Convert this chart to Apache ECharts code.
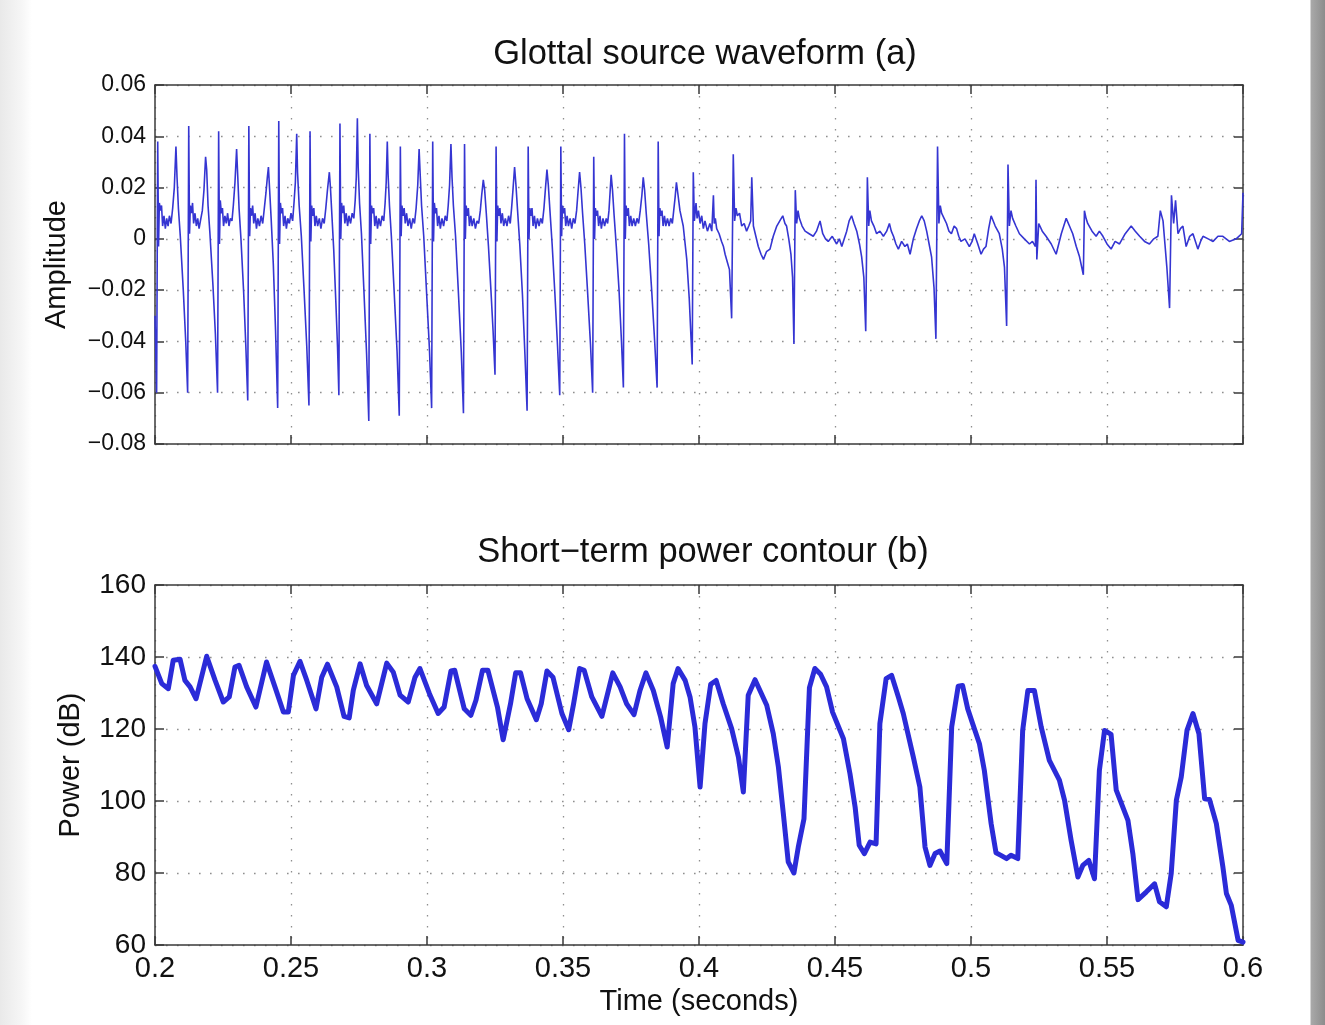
<!DOCTYPE html>
<html>
<head>
<meta charset="utf-8">
<script src="https://cdn.jsdelivr.net/npm/echarts@6/dist/echarts.min.js"></script>
<style>
  html, body { margin: 0; padding: 0; }
  body {
    width: 1325px; height: 1025px; overflow: hidden;
    background: linear-gradient(to right, #e9e9e9 0px, #f6f6f6 22px, #ffffff 32px, #ffffff 1310px, #a9a9a9 1311px, #8c8c8c 1325px);
  }
  #chart { width: 1325px; height: 1025px; }
</style>
</head>
<body>
<div id="chart"></div>
<script>
// ---- Data ----
const timeTicks = [0.2, 0.25, 0.3, 0.35, 0.4, 0.45, 0.5, 0.55, 0.6];
const amplitudeTicks = [-0.08, -0.06, -0.04, -0.02, 0, 0.02, 0.04, 0.06];
const powerTicks = [60, 80, 100, 120, 140, 160];

// Glottal source waveform (a): [time (s), amplitude]
const waveform = [
[0.2000,-0.030],[0.2003,-0.045],[0.2006,-0.060],
[0.2010,0.038],[0.2013,-0.003],[0.2016,0.014],[0.2020,0.011],[0.2024,0.013],[0.2028,0.005],[0.2033,0.009],[0.2038,0.004],[0.2043,0.008],[0.2048,0.005],[0.2053,0.009],[0.2059,0.006],[0.2065,0.012],[0.2071,0.020],[0.2077,0.036],[0.2081,0.024],[0.2086,0.012],[0.2093,0.001],[0.2104,-0.020],[0.2113,-0.040],[0.2120,-0.060],
[0.2124,0.044],[0.2127,0.002],[0.2130,0.013],[0.2134,0.010],[0.2138,0.014],[0.2142,0.006],[0.2147,0.010],[0.2152,0.005],[0.2157,0.008],[0.2162,0.004],[0.2167,0.007],[0.2174,0.011],[0.2180,0.019],[0.2186,0.032],[0.2190,0.027],[0.2195,0.013],[0.2202,0.002],[0.2213,-0.018],[0.2222,-0.037],[0.2230,-0.060],
[0.2234,0.042],[0.2237,-0.002],[0.2240,0.015],[0.2244,0.010],[0.2248,0.012],[0.2252,0.005],[0.2257,0.009],[0.2262,0.006],[0.2267,0.010],[0.2272,0.005],[0.2277,0.008],[0.2283,0.007],[0.2288,0.013],[0.2294,0.022],[0.2300,0.035],[0.2304,0.025],[0.2309,0.012],[0.2316,0.000],[0.2326,-0.021],[0.2334,-0.042],[0.2341,-0.063],
[0.2345,0.044],[0.2348,0.001],[0.2351,0.012],[0.2355,0.009],[0.2359,0.013],[0.2363,0.006],[0.2368,0.010],[0.2373,0.004],[0.2378,0.008],[0.2384,0.005],[0.2390,0.009],[0.2396,0.006],[0.2402,0.012],[0.2408,0.018],[0.2413,0.024],[0.2417,0.028],[0.2421,0.020],[0.2427,0.008],[0.2435,-0.010],[0.2443,-0.035],[0.2451,-0.066],
[0.2455,0.046],[0.2458,-0.002],[0.2461,0.014],[0.2465,0.010],[0.2469,0.012],[0.2473,0.005],[0.2478,0.009],[0.2483,0.004],[0.2488,0.008],[0.2494,0.006],[0.2500,0.010],[0.2506,0.007],[0.2511,0.014],[0.2516,0.022],[0.2521,0.041],[0.2524,0.026],[0.2530,0.013],[0.2538,0.001],[0.2548,-0.020],[0.2558,-0.042],[0.2566,-0.065],
[0.2570,0.042],[0.2573,-0.001],[0.2576,0.013],[0.2580,0.009],[0.2584,0.012],[0.2588,0.005],[0.2593,0.009],[0.2598,0.005],[0.2604,0.008],[0.2610,0.004],[0.2616,0.008],[0.2622,0.006],[0.2628,0.012],[0.2634,0.019],[0.2641,0.026],[0.2645,0.020],[0.2650,0.010],[0.2657,-0.004],[0.2665,-0.025],[0.2671,-0.042],[0.2676,-0.061],
[0.2680,0.045],[0.2683,0.000],[0.2686,0.014],[0.2690,0.010],[0.2694,0.013],[0.2698,0.006],[0.2703,0.010],[0.2708,0.005],[0.2713,0.009],[0.2719,0.006],[0.2725,0.010],[0.2731,0.008],[0.2736,0.015],[0.2740,0.024],[0.2744,0.047],[0.2747,0.028],[0.2752,0.014],[0.2759,0.002],[0.2768,-0.020],[0.2778,-0.045],[0.2786,-0.071],
[0.2790,0.041],[0.2793,-0.002],[0.2796,0.013],[0.2800,0.010],[0.2804,0.012],[0.2808,0.005],[0.2813,0.009],[0.2818,0.004],[0.2823,0.008],[0.2829,0.005],[0.2835,0.009],[0.2841,0.007],[0.2846,0.014],[0.2850,0.022],[0.2854,0.038],[0.2857,0.025],[0.2862,0.013],[0.2869,0.001],[0.2879,-0.020],[0.2890,-0.044],[0.2898,-0.069],
[0.2902,0.036],[0.2905,0.001],[0.2908,0.013],[0.2912,0.009],[0.2916,0.012],[0.2920,0.006],[0.2925,0.010],[0.2930,0.005],[0.2936,0.008],[0.2942,0.004],[0.2948,0.008],[0.2954,0.006],[0.2960,0.012],[0.2966,0.021],[0.2971,0.035],[0.2975,0.025],[0.2980,0.013],[0.2988,0.001],[0.2998,-0.020],[0.3009,-0.043],[0.3017,-0.066],
[0.3021,0.038],[0.3024,-0.001],[0.3027,0.014],[0.3031,0.010],[0.3035,0.012],[0.3039,0.005],[0.3044,0.009],[0.3049,0.004],[0.3055,0.008],[0.3061,0.005],[0.3067,0.009],[0.3073,0.007],[0.3078,0.013],[0.3083,0.021],[0.3088,0.037],[0.3092,0.024],[0.3097,0.013],[0.3105,0.001],[0.3115,-0.020],[0.3126,-0.044],[0.3134,-0.068],
[0.3138,0.037],[0.3141,0.000],[0.3144,0.013],[0.3148,0.009],[0.3152,0.012],[0.3156,0.005],[0.3161,0.009],[0.3166,0.005],[0.3172,0.008],[0.3178,0.004],[0.3184,0.007],[0.3190,0.006],[0.3196,0.011],[0.3201,0.017],[0.3207,0.023],[0.3212,0.019],[0.3218,0.010],[0.3226,-0.003],[0.3235,-0.020],[0.3243,-0.036],[0.3250,-0.053],
[0.3254,0.036],[0.3257,-0.001],[0.3260,0.013],[0.3264,0.009],[0.3268,0.012],[0.3272,0.006],[0.3277,0.010],[0.3282,0.005],[0.3288,0.008],[0.3294,0.005],[0.3300,0.009],[0.3306,0.006],[0.3311,0.012],[0.3316,0.019],[0.3322,0.028],[0.3327,0.021],[0.3333,0.011],[0.3341,-0.002],[0.3351,-0.022],[0.3360,-0.045],[0.3368,-0.067],
[0.3372,0.036],[0.3375,0.000],[0.3378,0.012],[0.3382,0.009],[0.3386,0.012],[0.3390,0.005],[0.3395,0.009],[0.3400,0.004],[0.3406,0.008],[0.3412,0.005],[0.3418,0.008],[0.3424,0.006],[0.3430,0.012],[0.3435,0.019],[0.3441,0.027],[0.3446,0.021],[0.3452,0.011],[0.3460,-0.002],[0.3470,-0.021],[0.3480,-0.042],[0.3488,-0.061],
[0.3492,0.036],[0.3495,0.001],[0.3498,0.013],[0.3502,0.010],[0.3506,0.012],[0.3510,0.005],[0.3515,0.009],[0.3520,0.005],[0.3526,0.008],[0.3532,0.004],[0.3538,0.008],[0.3544,0.006],[0.3550,0.011],[0.3555,0.018],[0.3561,0.026],[0.3566,0.020],[0.3572,0.010],[0.3580,-0.002],[0.3590,-0.020],[0.3601,-0.041],[0.3609,-0.060],
[0.3613,0.032],[0.3616,0.000],[0.3619,0.012],[0.3623,0.009],[0.3627,0.011],[0.3631,0.005],[0.3636,0.009],[0.3641,0.004],[0.3647,0.008],[0.3653,0.005],[0.3659,0.008],[0.3664,0.006],[0.3669,0.011],[0.3673,0.018],[0.3677,0.025],[0.3682,0.019],[0.3688,0.009],[0.3696,-0.003],[0.3706,-0.020],[0.3715,-0.040],[0.3722,-0.058],
[0.3726,0.041],[0.3729,0.000],[0.3732,0.013],[0.3736,0.009],[0.3740,0.012],[0.3744,0.005],[0.3749,0.009],[0.3754,0.005],[0.3760,0.008],[0.3766,0.005],[0.3772,0.008],[0.3778,0.006],[0.3784,0.011],[0.3790,0.017],[0.3795,0.024],[0.3800,0.019],[0.3806,0.010],[0.3815,-0.002],[0.3826,-0.020],[0.3837,-0.040],[0.3846,-0.058],
[0.3850,0.038],[0.3853,0.001],[0.3856,0.012],[0.3860,0.009],[0.3864,0.011],[0.3868,0.005],[0.3873,0.009],[0.3878,0.005],[0.3884,0.008],[0.3890,0.005],[0.3896,0.008],[0.3902,0.006],[0.3907,0.011],[0.3912,0.016],[0.3917,0.022],[0.3923,0.017],[0.3930,0.011],[0.3942,0.005],[0.3955,-0.008],[0.3964,-0.023],[0.3975,-0.049],
[0.3979,0.026],[0.3983,0.007],[0.3989,0.014],[0.3993,0.008],[0.3998,0.011],[0.4004,0.006],[0.4010,0.009],[0.4016,0.004],[0.4022,0.007],[0.4031,0.003],[0.4040,0.006],[0.4047,0.003],[0.4053,0.017],[0.4056,0.006],[0.4060,0.008],[0.4065,0.004],[0.4074,0.002],[0.4083,-0.001],[0.4090,-0.003],[0.4096,-0.006],[0.4104,-0.009],[0.4112,-0.012],[0.4120,-0.031],
[0.4126,0.033],[0.4131,0.007],[0.4136,0.012],[0.4141,0.009],[0.4149,0.010],[0.4157,0.005],[0.4166,0.006],[0.4175,0.003],[0.4183,0.005],[0.4190,0.007],[0.4194,0.024],[0.4200,0.005],[0.4209,0.001],[0.4218,-0.003],[0.4228,-0.006],[0.4237,-0.008],[0.4248,-0.005],[0.4261,-0.004],[0.4273,0.001],[0.4286,0.005],[0.4297,0.007],[0.4308,0.009],[0.4316,0.006],[0.4322,0.005],[0.4330,0.000],[0.4338,-0.006],[0.4344,-0.015],[0.4349,-0.041],
[0.4354,0.019],[0.4359,0.006],[0.4364,0.011],[0.4369,0.008],[0.4379,0.005],[0.4390,0.003],[0.4405,0.002],[0.4420,0.001],[0.4432,0.003],[0.4445,0.007],[0.4455,0.002],[0.4465,0.000],[0.4475,-0.001],[0.4490,0.001],[0.4506,-0.002],[0.4516,0.000],[0.4525,-0.003],[0.4534,0.000],[0.4543,0.003],[0.4552,0.007],[0.4561,0.009],[0.4570,0.006],[0.4580,0.003],[0.4590,-0.002],[0.4598,-0.007],[0.4606,-0.015],[0.4613,-0.036],
[0.4619,0.024],[0.4624,0.005],[0.4628,0.011],[0.4634,0.007],[0.4643,0.005],[0.4653,0.002],[0.4665,0.003],[0.4678,0.001],[0.4690,0.003],[0.4700,0.006],[0.4707,0.003],[0.4715,0.001],[0.4724,-0.002],[0.4733,-0.004],[0.4745,-0.001],[0.4757,-0.003],[0.4766,-0.002],[0.4776,-0.006],[0.4788,0.000],[0.4800,0.004],[0.4810,0.007],[0.4819,0.009],[0.4828,0.007],[0.4837,0.003],[0.4846,-0.002],[0.4855,-0.007],[0.4864,-0.019],[0.4871,-0.039],
[0.4877,0.036],[0.4882,0.006],[0.4887,0.013],[0.4892,0.010],[0.4901,0.008],[0.4910,0.006],[0.4919,0.003],[0.4928,0.002],[0.4938,0.005],[0.4947,0.004],[0.4955,0.001],[0.4963,-0.001],[0.4978,0.000],[0.4994,-0.003],[0.5004,-0.001],[0.5012,0.002],[0.5025,-0.002],[0.5037,-0.006],[0.5046,-0.004],[0.5055,-0.003],[0.5065,0.004],[0.5074,0.009],[0.5089,0.005],[0.5104,0.002],[0.5115,-0.004],[0.5123,-0.011],[0.5131,-0.034],
[0.5136,0.029],[0.5141,0.005],[0.5147,0.011],[0.5153,0.008],[0.5165,0.005],[0.5178,0.002],[0.5196,0.000],[0.5215,-0.002],[0.5226,-0.001],[0.5237,-0.003],[0.5239,0.023],[0.5242,-0.008],[0.5249,0.006],[0.5262,0.003],[0.5276,0.001],[0.5295,-0.002],[0.5313,-0.006],[0.5332,0.002],[0.5350,0.008],[0.5362,0.005],[0.5374,0.002],[0.5387,-0.003],[0.5399,-0.007],[0.5413,-0.014],
[0.5417,0.011],[0.5423,0.008],[0.5429,0.006],[0.5445,0.003],[0.5460,0.001],[0.5472,0.003],[0.5485,0.001],[0.5500,-0.002],[0.5515,-0.004],[0.5530,-0.001],[0.5546,-0.002],[0.5567,0.002],[0.5589,0.005],[0.5604,0.003],[0.5620,0.001],[0.5638,-0.001],[0.5656,-0.002],[0.5672,0.000],[0.5687,0.001],[0.5696,0.011],[0.5706,0.007],[0.5713,-0.002],[0.5720,-0.011],[0.5730,-0.027],
[0.5737,0.017],[0.5745,0.006],[0.5752,0.015],[0.5761,0.002],[0.5770,0.004],[0.5779,0.005],[0.5791,-0.003],[0.5804,0.001],[0.5816,0.002],[0.5834,-0.004],[0.5844,-0.001],[0.5853,0.001],[0.5872,0.000],[0.5890,-0.001],[0.5908,0.001],[0.5926,0.001],[0.5950,-0.001],[0.5975,0.000],[0.5995,0.002],[0.6000,0.018]
];

// Short-term power contour (b): [time (s), power (dB)]
const power = [
[0.2000,137.4],[0.2025,132.6],[0.2049,131.2],[0.2067,139.1],[0.2092,139.4],[0.2110,133.5],[0.2129,131.7],[0.2151,128.4],[0.2190,140.2],[0.2221,133.5],[0.2251,127.5],[0.2273,128.9],[0.2294,137.2],[0.2309,137.7],[0.2337,131.7],[0.2371,126.1],[0.2410,138.6],[0.2441,131.7],[0.2472,124.7],[0.2490,124.7],[0.2509,134.9],[0.2533,138.8],[0.2558,133.5],[0.2592,125.6],[0.2613,134.4],[0.2634,138.0],[0.2668,131.7],[0.2695,123.5],[0.2714,123.1],[0.2729,130.7],[0.2754,138.1],[0.2778,132.1],[0.2815,127.0],[0.2852,138.3],[0.2876,135.8],[0.2901,129.4],[0.2931,127.5],[0.2956,134.4],[0.2974,136.8],
[0.3009,129.8],[0.3041,124.3],[0.3063,126.1],[0.3088,136.1],[0.3102,136.3],[0.3137,125.6],[0.3161,123.8],[0.3180,128.0],[0.3204,136.3],[0.3224,136.3],[0.3259,126.1],[0.3280,117.0],[0.3307,127.0],[0.3326,135.6],[0.3344,135.6],[0.3368,128.4],[0.3402,122.6],[0.3420,127.0],[0.3441,136.1],[0.3463,134.4],[0.3496,124.3],[0.3521,119.8],[0.3539,127.0],[0.3561,136.8],[0.3578,136.3],[0.3606,128.9],[0.3643,123.5],[0.3667,130.7],[0.3683,135.6],[0.3710,131.7],[0.3734,127.0],[0.3761,124.0],[0.3783,130.7],[0.3805,135.6],[0.3832,130.7],[0.3859,123.3],[0.3883,115.0],[0.3905,132.6],[0.3923,136.8],
[0.3949,133.5],[0.3967,128.9],[0.3985,120.6],[0.4004,103.9],[0.4022,121.5],[0.4043,132.4],[0.4063,133.5],[0.4089,127.0],[0.4120,120.1],[0.4145,112.2],[0.4163,102.5],[0.4181,129.4],[0.4206,133.7],[0.4249,126.6],[0.4273,118.7],[0.4292,109.4],[0.4310,96.5],[0.4328,83.1],[0.4349,80.0],[0.4365,87.2],[0.4386,95.1],[0.4406,131.5],[0.4426,136.8],[0.4447,135.2],[0.4469,131.7],[0.4491,124.7],[0.4531,117.3],[0.4555,107.6],[0.4574,98.3],[0.4589,87.7],[0.4608,85.4],[0.4629,88.6],[0.4651,88.1],[0.4665,121.5],[0.4688,134.0],[0.4708,134.9],[0.4733,128.9],[0.4751,124.3],[0.4788,112.2],[0.4812,103.9],[0.4831,87.2],[0.4849,82.1],[0.4868,85.4],[0.4886,86.1],[0.4911,82.6],[0.4929,120.6],[0.4953,131.9],
[0.4969,132.1],[0.4988,125.6],[0.5006,121.5],[0.5031,115.9],[0.5049,108.5],[0.5074,93.7],[0.5092,85.6],[0.5110,84.9],[0.5131,84.0],[0.5147,84.9],[0.5172,84.0],[0.5190,119.6],[0.5209,130.7],[0.5233,130.7],[0.5258,120.6],[0.5288,111.3],[0.5325,105.8],[0.5344,100.2],[0.5368,89.1],[0.5393,78.9],[0.5411,82.1],[0.5433,83.5],[0.5454,78.4],[0.5472,108.5],[0.5491,119.6],[0.5515,118.5],[0.5534,103.0],[0.5577,94.6],[0.5595,85.4],[0.5614,72.6],[0.5644,74.7],[0.5675,77.0],[0.5693,72.0],[0.5718,70.6],[0.5736,79.8],[0.5755,100.2],[0.5773,106.7],[0.5794,119.6],[0.5816,124.3],[0.5838,118.7],[0.5859,100.6],[0.5877,100.4],[0.5902,93.7],[0.5926,81.7],[0.5939,74.3],[0.5957,71.0],[0.5982,61.3],[0.6000,60.8]
];

// ---- Styling ----
const FONT = 'Liberation Sans, Arial, Helvetica, sans-serif';
const BORDER = '#3a3a3a';
const GRIDC = '#8f8f8f';

function fmtAmp(v) {
  if (Math.abs(v) < 1e-9) return '0';
  return v.toFixed(2).replace('-', '\u2212');
}
function fmtTime(v) { return String(Number(v.toFixed(2))); }

function xAx(gridIndex, position, opts) {
  return Object.assign({
    type: 'value', gridIndex: gridIndex, position: position,
    min: timeTicks[0], max: timeTicks[timeTicks.length - 1], interval: 0.05,
    axisLine: { show: true, onZero: false, lineStyle: { color: BORDER, width: 1.5 } },
    axisTick: { show: true, inside: true, length: 9, lineStyle: { color: BORDER, width: 1.5 } },
    axisLabel: { show: false },
    splitLine: { show: false }
  }, opts || {});
}
function yAx(gridIndex, position, min, max, interval, opts) {
  return Object.assign({
    type: 'value', gridIndex: gridIndex, position: position,
    min: min, max: max, interval: interval,
    axisLine: { show: true, onZero: false, lineStyle: { color: BORDER, width: 1.5 } },
    axisTick: { show: true, inside: true, length: 9, lineStyle: { color: BORDER, width: 1.5 } },
    axisLabel: { show: false },
    splitLine: { show: false }
  }, opts || {});
}
const dotted = { show: true, lineStyle: { color: GRIDC, width: 1.3, type: [1.6, 9.4] } };

const chart = echarts.init(document.getElementById('chart'), null, { renderer: 'canvas' });
chart.setOption({
  animation: false,
  backgroundColor: 'transparent',
  title: [
    { text: 'Glottal source waveform (a)', left: 700, top: 32, textAlign: 'center',
      textStyle: { fontFamily: FONT, fontSize: 34.5, fontWeight: 'normal', color: '#111' } },
    { text: 'Short\u2212term power contour (b)', left: 698, top: 530, textAlign: 'center',
      textStyle: { fontFamily: FONT, fontSize: 34.5, fontWeight: 'normal', color: '#111' } }
  ],
  grid: [
    { left: 155, right: 82, top: 85, height: 359, containLabel: false },
    { left: 155, right: 82, top: 585, height: 360, containLabel: false }
  ],
  xAxis: [
    xAx(0, 'bottom', { splitLine: dotted }),
    xAx(0, 'top'),
    xAx(1, 'bottom', {
      splitLine: dotted,
      axisLabel: { show: true, formatter: fmtTime, fontFamily: FONT, fontSize: 29, color: '#111', margin: 9 },
      name: 'Time (seconds)', nameLocation: 'middle', nameGap: 42,
      nameTextStyle: { fontFamily: FONT, fontSize: 29, color: '#111' }
    }),
    xAx(1, 'top')
  ],
  yAxis: [
    yAx(0, 'left', amplitudeTicks[0], amplitudeTicks[amplitudeTicks.length - 1], 0.02, {
      splitLine: dotted,
      axisLabel: { show: true, formatter: fmtAmp, fontFamily: FONT, fontSize: 23, color: '#111', margin: 9 },
      name: 'Amplitude', nameLocation: 'middle', nameGap: 84, nameRotate: 90,
      nameTextStyle: { fontFamily: FONT, fontSize: 29, color: '#111' }
    }),
    yAx(0, 'right', amplitudeTicks[0], amplitudeTicks[amplitudeTicks.length - 1], 0.02),
    yAx(1, 'left', powerTicks[0], powerTicks[powerTicks.length - 1], 20, {
      splitLine: dotted,
      axisLabel: { show: true, fontFamily: FONT, fontSize: 28, color: '#111', margin: 9 },
      name: 'Power (dB)', nameLocation: 'middle', nameGap: 70, nameRotate: 90,
      nameTextStyle: { fontFamily: FONT, fontSize: 29, color: '#111' }
    }),
    yAx(1, 'right', powerTicks[0], powerTicks[powerTicks.length - 1], 20)
  ],
  series: [
    { type: 'line', xAxisIndex: 0, yAxisIndex: 0, data: waveform, showSymbol: false,
      sampling: false, lineStyle: { color: '#3535d2', width: 1.6 }, z: 3 },
    { type: 'line', xAxisIndex: 2, yAxisIndex: 2, data: power, showSymbol: false,
      lineStyle: { color: '#2b2bd8', width: 5, join: 'round', cap: 'round' }, z: 3 }
  ]
});
</script>
</body>
</html>
